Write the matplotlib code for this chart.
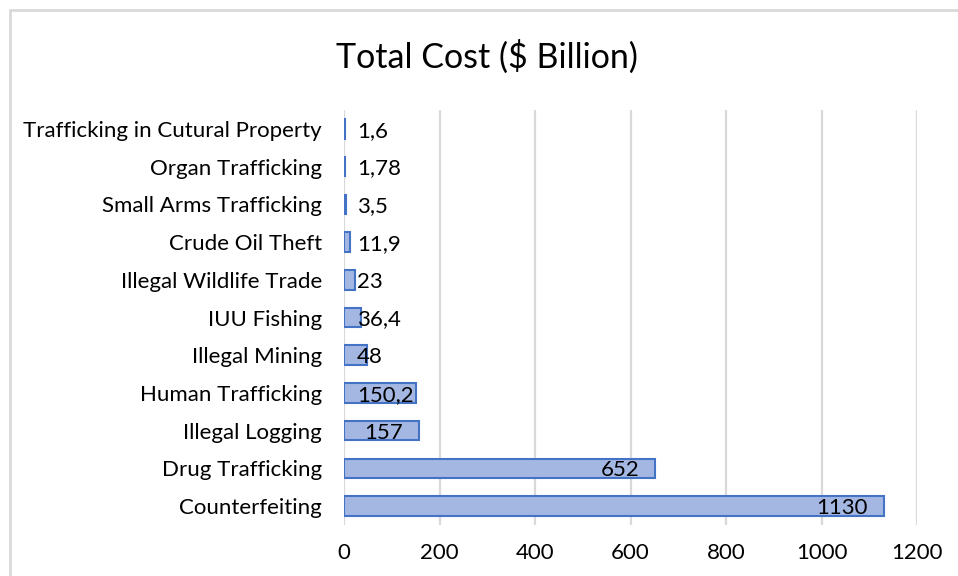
import matplotlib
matplotlib.use("Agg")
import matplotlib.pyplot as plt
from matplotlib.patches import Rectangle
from matplotlib.transforms import offset_copy

categories = ["Trafficking in Cutural Property", "Organ Trafficking", "Small Arms Trafficking",
              "Crude Oil Theft", "Illegal Wildlife Trade", "IUU Fishing", "Illegal Mining",
              "Human Trafficking", "Illegal Logging", "Drug Trafficking", "Counterfeiting"]
values = [1.6, 1.78, 3.5, 11.9, 23, 36.4, 48, 150.2, 157, 652, 1130]
value_labels = ["1,6", "1,78", "3,5", "11,9", "23", "36,4", "48", "150,2", "157", "652", "1130"]
xticks = [0, 200, 400, 600, 800, 1000, 1200]

plt.rcParams['font.family'] = ['Lato', 'DejaVu Sans']

W, H = 958, 576
fig = plt.figure(figsize=(W / 100, H / 100), dpi=100)
fig.patch.set_facecolor("white")

# outer chart frame
fig.patches.append(Rectangle((10 / W, -0.1), 1.2, 1 - 10 / H + 0.1, transform=fig.transFigure,
                             fill=False, edgecolor="#d9d9d9", linewidth=2))

ax = fig.add_axes([344 / W, 1 - 525 / H, (917 - 344) / W, (525 - 110) / H])
ypos = [len(categories) - 1 - i for i in range(len(categories))]
ax.barh(ypos, values, height=0.52, color="#a4b7e3", edgecolor="#4472c4", linewidth=1.5, zorder=3)
ax.set_xlim(0, 1200)
ax.set_ylim(-0.5, len(categories) - 0.5)
ax.set_yticks(ypos)
ax.set_yticklabels(categories, fontsize=16)
ax.set_xticks(xticks)
ax.set_xticklabels([str(t) for t in xticks], fontsize=16)
ax.tick_params(axis="both", length=0, colors="black")
ax.tick_params(axis="y", pad=16)
ax.tick_params(axis="x", pad=13)
for s in ax.spines.values():
    s.set_visible(False)
ax.grid(axis="x", color="#d9d9d9", linewidth=1.6, zorder=0)
ax.set_axisbelow(True)

fig.text(487 / W, 1 - 57 / H, "Total Cost ($ Billion)", ha="center", va="center", fontsize=24.5)

fig.canvas.draw()
renderer = fig.canvas.get_renderer()
base_px = ax.transData.transform((0, 0))[0]
for yp, v, lab in zip(ypos, values, value_labels):
    t = ax.text(v, yp, lab, ha="right", va="center", fontsize=16, zorder=4,
                transform=offset_copy(ax.transData, fig=fig, x=-16 * 72 / 100, y=-2 * 72 / 100, units="points"))
    bb = t.get_window_extent(renderer)
    if bb.x0 < base_px + 13:
        t.set_transform(offset_copy(ax.transData, fig=fig, x=13 * 72 / 100, y=-2 * 72 / 100, units="points"))
        t.set_x(0)
        t.set_ha("left")

fig.savefig("out.png", dpi=100, facecolor="white")
